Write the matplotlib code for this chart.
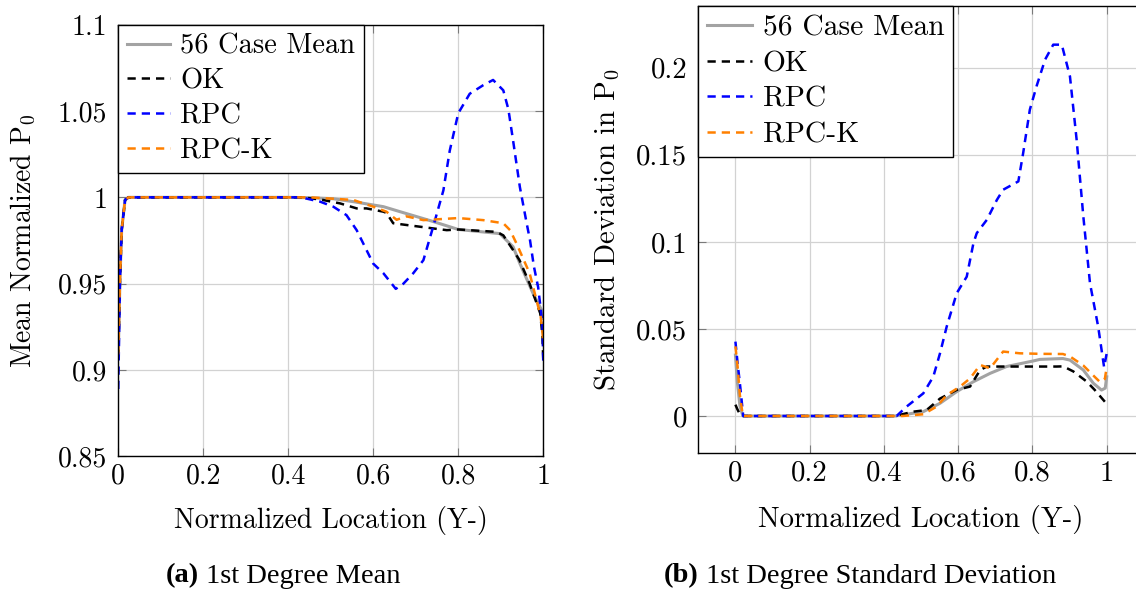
import matplotlib
matplotlib.use("Agg")
import matplotlib.pyplot as plt
from matplotlib.offsetbox import TextArea, HPacker, AnnotationBbox

plt.rcParams["font.family"] = ["cmr10", "DejaVu Serif"]
plt.rcParams["mathtext.fontset"] = "cm"
plt.rcParams["axes.unicode_minus"] = False
plt.rcParams["axes.formatter.use_mathtext"] = True

# ---- Mean of normalized P0 (1st degree) ----
mean_case_x = [0, 0.004, 0.008, 0.016, 0.024, 0.40, 0.45, 0.506, 0.553, 0.624, 0.663,
               0.741, 0.80, 0.898, 0.914, 0.929, 0.945, 0.976, 0.996, 1.0]
mean_case_y = [0.908, 0.952, 0.981, 0.9985, 1.0, 1.0, 0.9998, 0.9992, 0.9975, 0.9946, 0.9917,
               0.986, 0.9814, 0.979, 0.975, 0.9714, 0.9617, 0.9444, 0.9347, 0.930]

mean_ok_x = [0, 0.004, 0.008, 0.016, 0.024, 0.43, 0.475, 0.522, 0.561, 0.584, 0.624, 0.631,
             0.647, 0.678, 0.741, 0.773, 0.80, 0.89, 0.906, 0.929, 0.944, 0.968, 0.993, 0.998, 1.0]
mean_ok_y = [0.907, 0.952, 0.981, 0.9985, 1.0, 1.0, 0.9988, 0.9965, 0.9936, 0.9936, 0.9917, 0.991,
             0.985, 0.984, 0.982, 0.981, 0.9814, 0.980, 0.978, 0.9695, 0.9637, 0.950, 0.9328, 0.92, 0.907]

mean_rpc_x = [0, 0.004, 0.008, 0.016, 0.024, 0.43, 0.475, 0.506, 0.537, 0.561, 0.60, 0.624,
              0.653, 0.671, 0.694, 0.718, 0.741, 0.765, 0.78, 0.80, 0.827, 0.859, 0.882, 0.906,
              0.918, 0.929, 0.945, 0.961, 0.969, 0.978, 0.988, 0.998, 1.0]
mean_rpc_y = [0.889, 0.952, 0.981, 0.9985, 1.0, 1.0, 0.9975, 0.9946, 0.9897, 0.981, 0.9616, 0.956,
              0.947, 0.950, 0.956, 0.9636, 0.983, 1.004, 1.027, 1.0487, 1.060, 1.065, 1.068, 1.062,
              1.051, 1.033, 1.006, 0.985, 0.975, 0.960, 0.948, 0.927, 0.905]

mean_rpck_x = [0, 0.004, 0.008, 0.016, 0.024, 0.45, 0.506, 0.553, 0.60, 0.631, 0.655, 0.678,
               0.718, 0.80, 0.859, 0.906, 0.922, 0.937, 0.968, 0.994, 1.0]
mean_rpck_y = [0.909, 0.952, 0.981, 0.9985, 1.0, 1.0, 0.9992, 0.9985, 0.9946, 0.9917, 0.987, 0.989,
               0.9868, 0.988, 0.9868, 0.985, 0.981, 0.9733, 0.956, 0.931, 0.917]

# ---- Standard deviation of P0 (1st degree) ----
std_case_x = [0, 0.005, 0.012, 0.02, 0.43, 0.506, 0.551, 0.596, 0.641, 0.686, 0.73, 0.802,
              0.82, 0.882, 0.901, 0.937, 0.964, 0.986, 0.996, 1.0]
std_case_y = [0.035, 0.02, 0.006, 0, 0, 0.0025, 0.0073, 0.014, 0.0197, 0.0245, 0.0284, 0.0316,
              0.0325, 0.033, 0.0321, 0.0264, 0.0188, 0.0149, 0.016, 0.0225]

std_ok_x = [0, 0.005, 0.012, 0.02, 0.43, 0.479, 0.515, 0.551, 0.596, 0.632, 0.659, 0.677,
            0.73, 0.865, 0.883, 0.91, 0.946, 0.968, 0.995]
std_ok_y = [0.0065, 0.004, 0.001, 0, 0, 0.0025, 0.0034, 0.010, 0.015, 0.0169, 0.0264, 0.0284,
            0.0284, 0.0284, 0.0285, 0.0256, 0.0198, 0.0149, 0.0082]

std_rpc_x = [0, 0.006, 0.012, 0.021, 0.434, 0.461, 0.506, 0.533, 0.551, 0.569, 0.596, 0.623,
             0.641, 0.65, 0.677, 0.704, 0.721, 0.762, 0.775, 0.793, 0.811, 0.834, 0.856, 0.879,
             0.901, 0.919, 0.937, 0.955, 0.977, 0.993, 1.0]
std_rpc_y = [0.0427, 0.03, 0.0188, 0, 0, 0.0054, 0.013, 0.0226, 0.036, 0.0513, 0.0705, 0.080,
             0.0992, 0.105, 0.1126, 0.124, 0.1299, 0.1347, 0.151, 0.1759, 0.1893, 0.2046, 0.2132,
             0.2132, 0.195, 0.1586, 0.1146, 0.0762, 0.0513, 0.028, 0.036]

std_rpck_x = [0, 0.006, 0.012, 0.02, 0.45, 0.506, 0.542, 0.569, 0.605, 0.632, 0.659, 0.686,
              0.721, 0.766, 0.82, 0.882, 0.901, 0.937, 0.968, 0.982, 0.995, 1.0]
std_rpck_y = [0.040, 0.028, 0.012, 0, 0, 0.001, 0.0054, 0.012, 0.0169, 0.0216, 0.0293, 0.0274,
              0.037, 0.036, 0.0357, 0.0356, 0.0342, 0.029, 0.0224, 0.0195, 0.0213, 0.028]

series_labels = ["56 Case Mean", "OK", "RPC", "RPC-K"]
x_ticks = [0, 0.2, 0.4, 0.6, 0.8, 1]
mean_ticks = [0.85, 0.9, 0.95, 1, 1.05, 1.1]
mean_ticklabels = ["0.85", "0.9", "0.95", "1", "1.05", "1.1"]
std_ticks = [0, 0.05, 0.1, 0.15, 0.2]
std_ticklabels = ["0", "0.05", "0.1", "0.15", "0.2"]
x_ticklabels = ["0", "0.2", "0.4", "0.6", "0.8", "1"]

GRAY = "#a3a3a3"
BLUE = "#0000ff"
ORANGE = "#ff8000"

fig = plt.figure(figsize=(11.36, 5.94), dpi=100)
ax1 = fig.add_axes([0.1041, 0.2318, 0.3741, 0.7266])
ax2 = fig.add_axes([0.6147, 0.2369, 0.3922, 0.7530])


def draw(ax, data, fs):
    styles = [dict(color=GRAY, lw=2.2, ls="-"),
              dict(color="black", lw=1.8, dashes=(3.3, 2.4)),
              dict(color=BLUE, lw=1.8, dashes=(3.3, 2.4)),
              dict(color=ORANGE, lw=1.8, dashes=(3.3, 2.4))]
    for (xs, ys), st, lab in zip(data, styles, series_labels):
        ax.plot(xs, ys, label=lab, **st)
    ax.grid(True, color="#d2d2d2", lw=0.9)
    ax.set_axisbelow(True)
    ax.tick_params(direction="in", top=True, right=True, length=6, width=0.8,
                   color="#7a7a7a", labelsize=fs)
    ax.tick_params(axis="y", pad=8)
    ax.tick_params(axis="x", pad=5)
    for s in ax.spines.values():
        s.set_linewidth(1.0)
        s.set_color("black")
    leg = ax.legend(loc="upper left", borderaxespad=0, fontsize=fs + 0.5, frameon=True,
                    fancybox=False, edgecolor="black", framealpha=1,
                    handlelength=1.5, handletextpad=0.38, labelspacing=0.3,
                    borderpad=0.3)
    leg.get_frame().set_linewidth(1.0)


FS1 = 20
draw(ax1, [(mean_case_x, mean_case_y), (mean_ok_x, mean_ok_y),
           (mean_rpc_x, mean_rpc_y), (mean_rpck_x, mean_rpck_y)], FS1)
ax1.set_xlim(0, 1)
ax1.set_ylim(0.85, 1.1)
ax1.set_xticks(x_ticks, x_ticklabels)
ax1.set_yticks(mean_ticks, mean_ticklabels)
ax1.set_xlabel("Normalized Location (Y-)", fontsize=FS1, labelpad=12)
ax1.set_ylabel(r"Mean Normalized $\mathrm{P}_0$", fontsize=FS1, labelpad=14)

FS2 = 20.8
draw(ax2, [(std_case_x, std_case_y), (std_ok_x, std_ok_y),
           (std_rpc_x, std_rpc_y), (std_rpck_x, std_rpck_y)], FS2)
ax2.set_xlim(-0.1, 1.1)
ax2.set_ylim(-0.0214, 0.2354)
ax2.set_xticks(x_ticks, x_ticklabels)
ax2.set_yticks(std_ticks, std_ticklabels)
ax2.set_xlabel("Normalized Location (Y-)", fontsize=FS2, labelpad=13)
ax2.set_ylabel(r"Standard Deviation in $\mathrm{P}_0$", fontsize=FS2, labelpad=10)


def caption(tag, text, xc, yc):
    prop_b = dict(family="Liberation Serif", weight="bold", size=20.5)
    prop_r = dict(family="Liberation Serif", size=20.5)
    box = HPacker(children=[TextArea(tag, textprops=prop_b),
                            TextArea(" " + text, textprops=prop_r)],
                  align="baseline", pad=0, sep=0)
    ab = AnnotationBbox(box, (xc, yc), xycoords="figure pixels", frameon=False,
                        box_alignment=(0.5, 0.5))
    fig.add_artist(ab)


caption("(a)", "1st Degree Mean", 283, 594 - 576)
caption("(b)", "1st Degree Standard Deviation", 860, 594 - 576)

fig.savefig("out.png", dpi=100)
